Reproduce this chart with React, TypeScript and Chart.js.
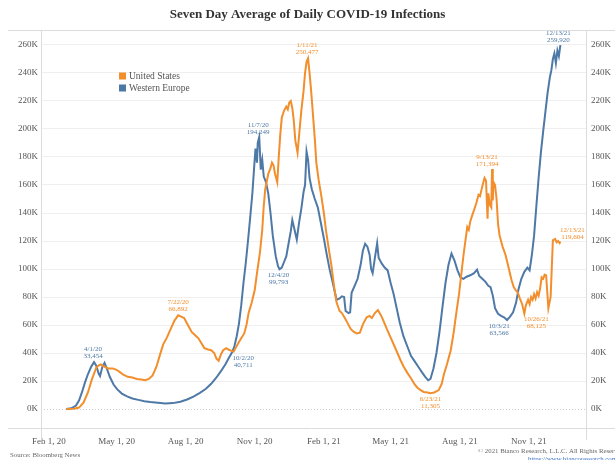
import React, { useEffect, useRef } from 'react';
import { Chart, registerables } from 'chart.js';

Chart.register(...registerables);

// ---------- DATA ----------
const usDates = [
  '2020-02-24','2020-03-05','2020-03-12','2020-03-18','2020-03-24','2020-03-29','2020-04-04','2020-04-07','2020-04-10','2020-04-14',
  '2020-04-20','2020-04-26','2020-05-01','2020-05-05','2020-05-10','2020-05-16','2020-05-22','2020-05-28','2020-06-03','2020-06-08',
  '2020-06-13','2020-06-18','2020-06-23','2020-06-28','2020-07-02','2020-07-07','2020-07-12','2020-07-17','2020-07-22','2020-07-26',
  '2020-07-30','2020-08-04','2020-08-09','2020-08-14','2020-08-18','2020-08-22','2020-08-26','2020-08-31','2020-09-04','2020-09-08',
  '2020-09-11','2020-09-14','2020-09-17','2020-09-20','2020-09-24','2020-09-27','2020-10-01','2020-10-04','2020-10-07','2020-10-10',
  '2020-10-14','2020-10-18','2020-10-21','2020-10-24','2020-10-28','2020-11-01','2020-11-04','2020-11-08','2020-11-11','2020-11-13',
  '2020-11-15','2020-11-19','2020-11-22','2020-11-24','2020-11-26','2020-11-28','2020-12-01','2020-12-03','2020-12-05','2020-12-07',
  '2020-12-10','2020-12-13','2020-12-15','2020-12-17','2020-12-19','2020-12-21','2020-12-23','2020-12-25','2020-12-28','2020-12-30',
  '2021-01-02','2021-01-05','2021-01-07','2021-01-09','2021-01-11','2021-01-13','2021-01-15','2021-01-17','2021-01-20','2021-01-22',
  '2021-01-25','2021-01-29','2021-02-01','2021-02-04','2021-02-08','2021-02-11','2021-02-15','2021-02-18','2021-02-22','2021-02-25',
  '2021-03-01','2021-03-05','2021-03-09','2021-03-13','2021-03-17','2021-03-21','2021-03-25','2021-03-30','2021-04-03','2021-04-06',
  '2021-04-10','2021-04-14','2021-04-18','2021-04-21','2021-04-26','2021-05-01','2021-05-06','2021-05-10','2021-05-14','2021-05-18',
  '2021-05-23','2021-05-28','2021-06-02','2021-06-06','2021-06-10','2021-06-14','2021-06-19','2021-06-23','2021-06-28','2021-07-04',
  '2021-07-08','2021-07-11','2021-07-15','2021-07-20','2021-07-24','2021-07-27','2021-07-31','2021-08-03','2021-08-06','2021-08-09',
  '2021-08-11','2021-08-13','2021-08-15','2021-08-18','2021-08-20','2021-08-23','2021-08-26','2021-08-28','2021-08-31','2021-09-03',
  '2021-09-05','2021-09-07','2021-09-08','2021-09-10','2021-09-12','2021-09-13','2021-09-14','2021-09-15','2021-09-17','2021-09-19',
  '2021-09-21','2021-09-23','2021-09-27','2021-10-01','2021-10-05','2021-10-09','2021-10-12','2021-10-15','2021-10-17','2021-10-20',
  '2021-10-23','2021-10-26','2021-10-28','2021-10-31','2021-11-02','2021-11-04','2021-11-06','2021-11-08','2021-11-10','2021-11-12',
  '2021-11-14','2021-11-16','2021-11-18','2021-11-20','2021-11-22','2021-11-24','2021-11-27','2021-11-30','2021-12-03','2021-12-06',
  '2021-12-08','2021-12-10','2021-12-12','2021-12-13',
];
const usCases = [
  0, 200, 1000, 4500, 12000, 21000, 29500, 31000, 31800, 30500,
  29000, 29000, 28000, 26500, 24500, 23000, 22500, 21500, 21000, 20500,
  21500, 24000, 30000, 39000, 46000, 51000, 57000, 63000, 66892, 66000,
  65000, 60000, 55000, 52500, 50500, 47000, 43500, 42500, 42000, 40000,
  36000, 34500, 39000, 42000, 43500, 42500, 41500, 41000, 44000, 47000,
  50500, 54000, 60000, 69000, 76000, 85000, 97000, 112000, 128000, 145000,
  157000, 168000, 172000, 176000, 174000, 168000, 162000, 180000, 196000, 208000,
  213000, 216000, 214000, 219000, 220000, 215000, 206000, 192000, 183000, 195000,
  213000, 227000, 240000, 248000, 250477, 240000, 228000, 214000, 193000, 176000,
  164000, 151000, 140000, 127000, 113000, 103000, 86000, 76000, 70000, 68500,
  65000, 61000, 57000, 55000, 54000, 54500, 60500, 65500, 66500, 65000,
  68500, 70700, 67000, 63500, 57000, 51000, 45000, 40000, 35000, 30500,
  26000, 22000, 17500, 15000, 13500, 12200, 11800, 11305, 11800, 13500,
  18000, 25000, 32000, 42000, 55000, 67000, 82000, 96000, 110000, 122000,
  130000, 128000, 134000, 139000, 142000, 147000, 153000, 152000, 159000, 165000,
  163000, 136000, 154000, 146000, 144000, 171394, 149000, 162000, 160000, 150000,
  132000, 124000, 116000, 110000, 101000, 92000, 87000, 84500, 83500, 79000,
  75000, 68125, 74000, 78000, 75000, 80000, 78000, 82000, 79000, 83500,
  81000, 86000, 94000, 93000, 96000, 95500, 72000, 80000, 120500, 121500,
  119000, 120000, 118500, 119604,
];

const weDates = [
  '2020-02-24','2020-03-02','2020-03-08','2020-03-12','2020-03-16','2020-03-20','2020-03-24','2020-03-28','2020-04-01','2020-04-04',
  '2020-04-07','2020-04-09','2020-04-12','2020-04-15','2020-04-18','2020-04-22','2020-04-27','2020-05-02','2020-05-08','2020-05-15',
  '2020-05-22','2020-05-30','2020-06-07','2020-06-15','2020-06-25','2020-07-05','2020-07-15','2020-07-25','2020-08-03','2020-08-12',
  '2020-08-20','2020-08-28','2020-09-04','2020-09-11','2020-09-17','2020-09-23','2020-09-28','2020-10-02','2020-10-05','2020-10-08',
  '2020-10-11','2020-10-14','2020-10-17','2020-10-20','2020-10-23','2020-10-26','2020-10-29','2020-10-31','2020-11-02','2020-11-04',
  '2020-11-05','2020-11-07','2020-11-09','2020-11-11','2020-11-13','2020-11-16','2020-11-19','2020-11-22','2020-11-25','2020-11-29',
  '2020-12-02','2020-12-04','2020-12-07','2020-12-10','2020-12-13','2020-12-16','2020-12-19','2020-12-21','2020-12-24','2020-12-27',
  '2020-12-30','2021-01-02','2021-01-05','2021-01-07','2021-01-09','2021-01-11','2021-01-13','2021-01-16','2021-01-20','2021-01-24',
  '2021-01-28','2021-02-01','2021-02-05','2021-02-09','2021-02-13','2021-02-18','2021-02-22','2021-02-25','2021-02-28','2021-03-02',
  '2021-03-06','2021-03-08','2021-03-10','2021-03-14','2021-03-18','2021-03-22','2021-03-25','2021-03-28','2021-03-31','2021-04-03',
  '2021-04-05','2021-04-07','2021-04-10','2021-04-13','2021-04-15','2021-04-19','2021-04-23','2021-04-27','2021-05-01','2021-05-05',
  '2021-05-09','2021-05-13','2021-05-18','2021-05-23','2021-05-28','2021-06-02','2021-06-07','2021-06-12','2021-06-16','2021-06-20',
  '2021-06-23','2021-06-27','2021-07-01','2021-07-05','2021-07-09','2021-07-13','2021-07-17','2021-07-21','2021-07-25','2021-07-29',
  '2021-08-02','2021-08-06','2021-08-10','2021-08-15','2021-08-20','2021-08-24','2021-08-27','2021-08-31','2021-09-04','2021-09-08',
  '2021-09-11','2021-09-14','2021-09-17','2021-09-21','2021-09-25','2021-09-29','2021-10-03','2021-10-07','2021-10-11','2021-10-15',
  '2021-10-18','2021-10-22','2021-10-26','2021-10-30','2021-11-02','2021-11-05','2021-11-08','2021-11-11','2021-11-14','2021-11-17',
  '2021-11-20','2021-11-23','2021-11-26','2021-11-29','2021-12-01','2021-12-03','2021-12-05','2021-12-07','2021-12-09','2021-12-11',
  '2021-12-13',
];
const weCases = [
  0, 500, 2500, 6000, 12000, 19000, 25000, 30000, 33454, 31000,
  25500, 23500, 30000, 33000, 29000, 23000, 17500, 14000, 11000, 9000,
  7500, 6500, 5500, 5000, 4500, 4000, 4200, 5200, 6800, 9000,
  11500, 14500, 18000, 22500, 27000, 32000, 37000, 40711, 45000, 52000,
  61000, 74000, 90000, 104000, 120000, 137000, 155000, 171000, 186000, 176000,
  190000, 194249, 171000, 178000, 166000, 162000, 154000, 140000, 124000, 109000,
  102000, 99793, 101000, 105000, 109000, 118000, 127000, 135000, 128000, 121000,
  133000, 143000, 155000, 160000, 184000, 178000, 165000, 157000, 150000, 144000,
  133000, 122000, 110000, 99000, 90000, 78000, 79000, 80500, 80000, 70000,
  68500, 69000, 83000, 88000, 93000, 103000, 113000, 118000, 116000, 110000,
  100000, 97000, 108000, 118500, 108000, 104000, 101000, 99000, 90000, 82000,
  72000, 62000, 52000, 45000, 38000, 34000, 30000, 26000, 23000, 20500,
  21500, 29000, 40000, 55000, 73000, 90000, 103000, 111000, 106000, 99000,
  94000, 93000, 94500, 95500, 97000, 99500, 95000, 93000, 91000, 88000,
  87000, 81000, 72000, 68000, 66500, 65500, 63566, 66000, 69000, 76000,
  85000, 93000, 98000, 101000, 99000, 110000, 124000, 145000, 165000, 183000,
  198000, 212000, 226000, 237000, 242000, 250000, 254000, 247000, 256000, 252000,
  259920,
];

const xTickDates = ['2020-02-01','2020-05-01','2020-08-01','2020-11-01','2021-02-01','2021-05-01','2021-08-01','2021-11-01'];
const xTickLabels = ['Feb 1, 20','May 1, 20','Aug 1, 20','Nov 1, 20','Feb 1, 21','May 1, 21','Aug 1, 21','Nov 1, 21'];
const yTickValues = [0, 20000, 40000, 60000, 80000, 100000, 120000, 140000, 160000, 180000, 200000, 220000, 240000, 260000];

const seriesNames = { us: 'United States', we: 'Western Europe' };

// annotated points: [series, date]; value read from the series arrays
const annotationPoints: [string, string][] = [
  ['we', '2020-04-01'], ['us', '2020-07-22'], ['we', '2020-10-02'], ['we', '2020-11-07'],
  ['we', '2020-12-04'], ['us', '2021-01-11'], ['us', '2021-06-23'], ['us', '2021-09-13'],
  ['we', '2021-10-03'], ['us', '2021-10-26'], ['us', '2021-12-13'], ['we', '2021-12-13'],
];
// label placement (style): offset of the date line centre from the point
const annotationLayout = [
  { dx: -1, dy: -13 }, { dx: 0, dy: -13 }, { dx: 11, dy: 6 }, { dx: -1, dy: -12 },
  { dx: -1, dy: 6 }, { dx: -1, dy: -13 }, { dx: 0, dy: 6 }, { dx: -5, dy: -12 },
  { dx: -8, dy: 6 }, { dx: 12, dy: 6 }, { dx: 12, dy: -11 }, { dx: -2, dy: -12 },
];

// ---------- STYLE ----------
const US_COLOR = '#F28E2B';
const WE_COLOR = '#4E79A7';
const SERIF = "'Liberation Serif', 'Times New Roman', serif";
const TEXT = '#555555';
const RULE = '#dcdcdc';

const dayNum = (s: string) => {
  const [y, m, d] = s.split('-').map(Number);
  return (Date.UTC(y, m - 1, d) - Date.UTC(2020, 0, 1)) / 86400000;
};
const shortDate = (s: string) => {
  const [y, m, d] = s.split('-').map(Number);
  return `${m}/${d}/${String(y).slice(2)}`;
};

export default function App() {
  const ref = useRef<HTMLCanvasElement | null>(null);

  useEffect(() => {
    document.body.style.margin = '0';
    const canvas = ref.current;
    if (!canvas) return;

    const seriesData: Record<string, { dates: string[]; values: number[] }> = {
      us: { dates: usDates, values: usCases },
      we: { dates: weDates, values: weCases },
    };
    const colors: Record<string, string> = { us: US_COLOR, we: WE_COLOR };

    const decor = {
      id: 'decor',
      beforeDatasetsDraw(chart: any) {
        const { ctx, chartArea: a, scales } = chart;
        ctx.save();
        // zero line dotted
        const y0 = scales.y.getPixelForValue(0);
        ctx.strokeStyle = '#cfcfcf';
        ctx.lineWidth = 1;
        ctx.setLineDash([1, 2]);
        ctx.beginPath();
        ctx.moveTo(a.left, Math.round(y0) + 0.5);
        ctx.lineTo(a.right, Math.round(y0) + 0.5);
        ctx.stroke();
        ctx.setLineDash([]);
        // frame rules
        ctx.strokeStyle = RULE;
        ctx.beginPath();
        ctx.moveTo(8, Math.round(a.top) + 0.5);
        ctx.lineTo(615, Math.round(a.top) + 0.5);
        ctx.moveTo(8, Math.round(a.bottom) + 0.5);
        ctx.lineTo(615, Math.round(a.bottom) + 0.5);
        ctx.moveTo(Math.round(a.left) + 0.5, a.top);
        ctx.lineTo(Math.round(a.left) + 0.5, a.bottom + 12);
        ctx.moveTo(Math.round(a.right) + 0.5, a.top);
        ctx.lineTo(Math.round(a.right) + 0.5, a.bottom + 12);
        ctx.stroke();
        ctx.restore();
      },
      afterDatasetsDraw(chart: any) {
        const { ctx, scales } = chart;
        ctx.save();
        // annotations
        ctx.font = `7px ${SERIF}`;
        ctx.textAlign = 'center';
        ctx.textBaseline = 'middle';
        annotationPoints.forEach(([key, date], i) => {
          const s = seriesData[key];
          const idx = s.dates.indexOf(date);
          if (idx < 0) return;
          const v = s.values[idx];
          const px = scales.x.getPixelForValue(dayNum(date));
          const py = scales.y.getPixelForValue(v);
          const lay = annotationLayout[i];
          ctx.fillStyle = colors[key];
          ctx.fillText(shortDate(date), px + lay.dx, py + lay.dy);
          ctx.fillText(v.toLocaleString('en-US'), px + lay.dx, py + lay.dy + 7);
        });
        // legend
        ctx.textAlign = 'left';
        ctx.font = `9.5px ${SERIF}`;
        const legendItems = chart.data.datasets;
        legendItems.forEach((ds: any, i: number) => {
          const ly = 76 + i * 12;
          ctx.fillStyle = ds.borderColor;
          ctx.fillRect(119, ly - 3.5, 7, 7);
          ctx.fillStyle = TEXT;
          ctx.fillText(ds.label, 129, ly);
        });
        // footer
        ctx.font = `6.8px ${SERIF}`;
        ctx.fillStyle = '#666';
        ctx.fillText('Source: Bloomberg News', 10, 455);
        ctx.fillText('\u00A9 2021 Bianco Research, L.L.C. All Rights Reserved', 478, 451);
        ctx.fillStyle = '#3a6fc4';
        ctx.fillText('https://www.biancoresearch.com', 528, 459);
        ctx.restore();
      },
    };

    const xMin = 20.4;
    const xMax = 746.1;

    const chart = new Chart(canvas, {
      type: 'line',
      data: {
        datasets: [
          {
            label: seriesNames.us,
            data: usDates.map((d, i) => ({ x: dayNum(d), y: usCases[i] })),
            borderColor: US_COLOR,
            backgroundColor: US_COLOR,
            borderWidth: 2,
            pointRadius: 0,
            tension: 0,
            yAxisID: 'y',
          },
          {
            label: seriesNames.we,
            data: weDates.map((d, i) => ({ x: dayNum(d), y: weCases[i] })),
            borderColor: WE_COLOR,
            backgroundColor: WE_COLOR,
            borderWidth: 2,
            pointRadius: 0,
            tension: 0,
            yAxisID: 'y',
          },
        ],
      },
      options: {
        responsive: false,
        animation: false,
        devicePixelRatio: 1,
        layout: { padding: 0 },
        plugins: {
          legend: { display: false },
          tooltip: { enabled: false },
          title: {
            display: true,
            text: 'Seven Day Average of Daily COVID-19 Infections',
            color: '#333333',
            font: { family: SERIF, size: 13, weight: 'bold', lineHeight: 1.2 },
            padding: { top: 7, bottom: 7.4 },
          },
        },
        scales: {
          x: {
            type: 'linear',
            min: xMin,
            max: xMax,
            afterBuildTicks: (scale: any) => {
              scale.ticks = xTickDates.map((d) => ({ value: dayNum(d) }));
            },
            afterFit: (scale: any) => {
              scale.height = 32;
            },
            ticks: {
              autoSkip: false,
              maxRotation: 0,
              padding: 0,
              color: TEXT,
              font: { family: SERIF, size: 9 },
              callback: (value: any) => {
                const i = xTickDates.findIndex((d) => dayNum(d) === value);
                return i >= 0 ? xTickLabels[i] : '';
              },
            },
            grid: { display: false },
            border: { display: false },
          },
          y: {
            type: 'linear',
            position: 'left',
            min: -13571,
            max: 270714,
            afterBuildTicks: (scale: any) => {
              scale.ticks = yTickValues.map((v) => ({ value: v }));
            },
            afterFit: (scale: any) => {
              scale.width = 41;
            },
            ticks: {
              padding: 3,
              color: TEXT,
              font: { family: SERIF, size: 9 },
              callback: (value: any) => `${Math.round(Number(value) / 1000)}K`,
            },
            grid: {
              drawTicks: false,
              color: (ctx: any) => (ctx.tick && ctx.tick.value === 0 ? 'rgba(0,0,0,0)' : '#efefef'),
              lineWidth: 1,
            },
            border: { display: false },
          },
          y2: {
            type: 'linear',
            position: 'right',
            min: -13571,
            max: 270714,
            afterBuildTicks: (scale: any) => {
              scale.ticks = yTickValues.map((v) => ({ value: v }));
            },
            afterFit: (scale: any) => {
              scale.width = 29;
            },
            ticks: {
              padding: 5,
              color: TEXT,
              font: { family: SERIF, size: 9 },
              callback: (value: any) => `${Math.round(Number(value) / 1000)}K`,
            },
            grid: { drawOnChartArea: false, drawTicks: false },
            border: { display: false },
          },
        },
      },
      plugins: [decor],
    } as any);

    return () => {
      chart.destroy();
    };
  }, []);

  return (
    <div style={{ width: 615, height: 460, position: 'relative' }}>
      <canvas ref={ref} width={615} height={460} style={{ display: 'block' }} />
    </div>
  );
}
